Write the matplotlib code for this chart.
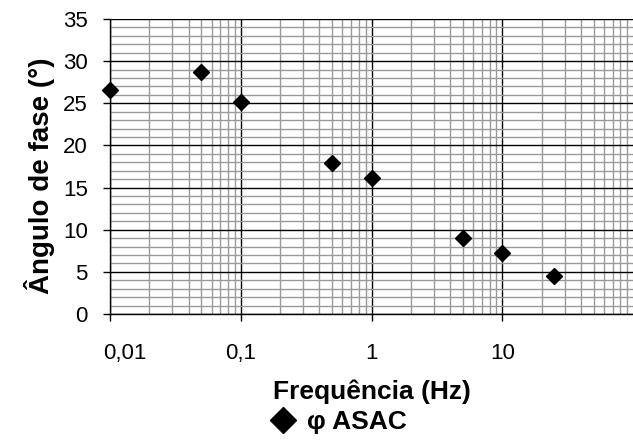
import numpy as np
import matplotlib
matplotlib.use("Agg")
import matplotlib.pyplot as plt
import matplotlib.transforms as mtransforms
from matplotlib.ticker import FixedLocator, FuncFormatter, LogLocator, MultipleLocator

plt.rcParams['font.family'] = ['Liberation Sans', 'DejaVu Sans']

# Dados
freq = [0.01, 0.05, 0.1, 0.5, 1, 5, 10, 25]
fase = [26.6, 28.7, 25.1, 17.9, 16.1, 9.0, 7.2, 4.5]
serie = "φ ASAC"
xticks = [0.01, 0.1, 1, 10]
xticklabels = ["0,01", "0,1", "1", "10"]

fig = plt.figure(figsize=(6.33, 4.41), dpi=100)
ax = fig.add_axes([110/633, 1 - 314/441, 1 - 110/633, 295/441])

ax.set_xscale('log')
ax.set_xlim(0.01, 100)
ax.set_ylim(0, 35)

# grade
ax.yaxis.set_major_locator(MultipleLocator(5))
ax.yaxis.set_minor_locator(MultipleLocator(1))
ax.xaxis.set_major_locator(FixedLocator(xticks))
ax.xaxis.set_minor_locator(LogLocator(base=10, subs=np.arange(2, 10)))
ax.xaxis.set_minor_formatter(FuncFormatter(lambda v, p: ""))
ax.xaxis.set_major_formatter(FuncFormatter(lambda v, p: xticklabels[xticks.index(v)] if v in xticks else ""))

ax.grid(which='minor', color='#999999', linewidth=1.0)
ax.grid(which='major', color='black', linewidth=1.0)
ax.set_axisbelow(True)

ax.plot(freq, fase, linestyle='none', marker='D', markersize=8.5,
        color='black', label=serie, zorder=3, clip_on=False)

for s in ['top', 'right']:
    ax.spines[s].set_visible(False)
for s in ['left', 'bottom']:
    ax.spines[s].set_linewidth(1.0)

ax.tick_params(which='major', direction='out', length=5, width=1, labelsize=16)
ax.tick_params(axis='x', which='major', pad=16)
ax.tick_params(axis='y', which='major', pad=11)
ax.tick_params(which='minor', length=0)

# primeiro rotulo (0,01) fica deslocado para a direita no original
first = ax.xaxis.get_major_ticks()[0].label1
first.set_horizontalalignment('left')
first.set_transform(first.get_transform() + mtransforms.ScaledTranslation(-7/100, 0, fig.dpi_scale_trans))

ax.set_xlabel("Frequência (Hz)", fontsize=19, fontweight='bold', labelpad=11)
ax.set_ylabel("Ângulo de fase (°)", fontsize=20, fontweight='bold')
ax.yaxis.set_label_coords(-0.105, 0.47)

fig.legend(loc='center', bbox_to_anchor=(337/633, 1 - 422/441), frameon=False,
           handletextpad=0.3, handlelength=1.2, borderaxespad=0, markerscale=1.6,
           prop={'size': 19, 'weight': 'bold'})

fig.savefig("out.png", dpi=100)
